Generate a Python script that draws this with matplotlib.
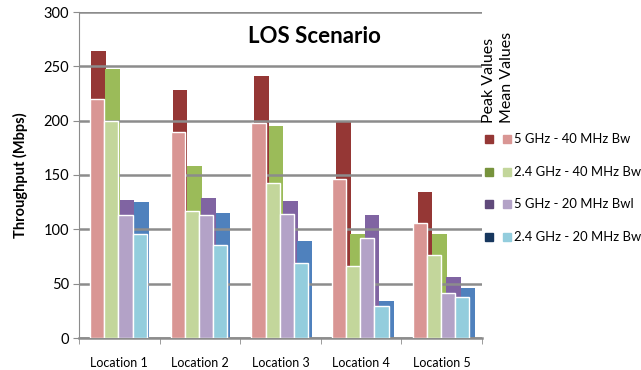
import numpy as np
import matplotlib
matplotlib.use("Agg")
import matplotlib.pyplot as plt
from matplotlib.patches import Rectangle

plt.rcParams["font.family"] = ["Lato", "DejaVu Sans"]

locations = ["Location 1", "Location 2", "Location 3", "Location 4", "Location 5"]
series = ["5 GHz - 40 MHz Bw", "2.4 GHz - 40 MHz Bw",
          "5 GHz - 20 MHz Bwl", "2.4 GHz - 20 MHz Bw"]

peak_5g_40 = [264, 228, 241, 200, 134]
peak_24g_40 = [248, 158, 195, 96, 96]
peak_5g_20 = [127, 129, 126, 113, 56]
peak_24g_20 = [125, 115, 89, 34, 46]

mean_5g_40 = [220, 190, 198, 146, 106]
mean_24g_40 = [200, 117, 143, 66, 76]
mean_5g_20 = [113, 113, 114, 92, 41]
mean_24g_20 = [96, 86, 69, 29, 38]

peak_values = [peak_5g_40, peak_24g_40, peak_5g_20, peak_24g_20]
mean_values = [mean_5g_40, mean_24g_40, mean_5g_20, mean_24g_20]

peak_colors = ["#953735", "#9BBB59", "#8064A2", "#4F81BD"]
mean_colors = ["#D99694", "#C3D69B", "#B3A2C7", "#93CDDD"]
legend_peak_colors = ["#953735", "#77933C", "#604A7B", "#17375E"]

W, H = 641, 370
fig = plt.figure(figsize=(W / 100, H / 100), dpi=100)

left, right, bottom, top = 79, 482, 338, 12
rect = [left / W, 1 - bottom / H, (right - left) / W, (bottom - top) / H]

# peak chart sits behind, slightly stretched to the right
ax_peak = fig.add_axes([rect[0] + 1 / W, rect[1], rect[2] + 5 / W, rect[3]])
ax = fig.add_axes(rect, zorder=2)
ax.patch.set_alpha(0)

x = np.arange(len(locations))
width = 0.176
offsets = (np.arange(4) - 1.5) * width - 0.01

for i in range(4):
    ax_peak.bar(x + offsets[i], peak_values[i], width * 1.02,
                color=peak_colors[i], linewidth=0)
    ax.bar(x + offsets[i], mean_values[i], width, color=mean_colors[i],
           edgecolor="white", linewidth=1.0, zorder=3)

for a in (ax, ax_peak):
    a.set_xlim(-0.5, len(locations) - 0.5)
    a.set_ylim(0, 300)
ax_peak.axis("off")

ax.set_yticks(np.arange(0, 301, 50))
ax.yaxis.grid(True, color="#8C8C8C", linewidth=1.8, zorder=0)
ax.set_axisbelow(True)
ax.tick_params(axis="y", length=4, color="#8C8C8C", labelsize=10.5, pad=3)

ax.set_xticks(x)
ax.set_xticklabels(locations, fontsize=9)
ax.set_xticks(np.arange(-0.5, len(locations), 1), minor=True)
ax.tick_params(axis="x", which="major", length=0, pad=14)
ax.tick_params(axis="x", which="minor", length=4, color="#8C8C8C")

for s in ("top", "right"):
    ax.spines[s].set_visible(False)
ax.spines["left"].set_color("#8C8C8C")
ax.spines["bottom"].set_color("#8C8C8C")
ax.spines["bottom"].set_linewidth(1.8)

ax.set_ylabel("Throughput (Mbps)", fontsize=10.5, fontweight="bold", labelpad=11)
ax.text(0.585, 0.925, "LOS Scenario", transform=ax.transAxes, ha="center",
        va="center", fontsize=16, fontweight="bold")

# legend: rotated headers and paired swatches
fig.text(489 / W, 1 - 123 / H, "Peak Values", rotation=90, ha="center",
         va="bottom", fontsize=11.5)
fig.text(507 / W, 1 - 123 / H, "Mean Values", rotation=90, ha="center",
         va="bottom", fontsize=11.5)
sq = 8
for i, name in enumerate(series):
    yc = 139 + i * 32.7
    fig.add_artist(Rectangle((485 / W, 1 - (yc + sq / 2) / H), sq / W, sq / H,
                             transform=fig.transFigure,
                             color=legend_peak_colors[i]))
    fig.add_artist(Rectangle((503 / W, 1 - (yc + sq / 2) / H), sq / W, sq / H,
                             transform=fig.transFigure, color=mean_colors[i]))
    fig.text(514 / W, 1 - yc / H, name, ha="left", va="center", fontsize=9.4)

fig.savefig("out.png", dpi=100)
plt.close(fig)
